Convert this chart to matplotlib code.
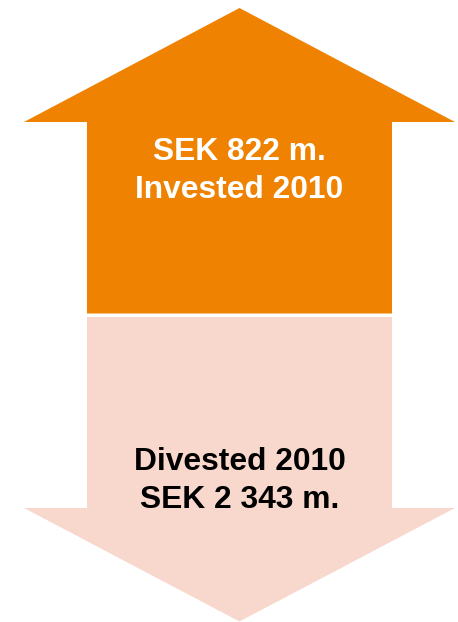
import matplotlib
matplotlib.use("Agg")
import matplotlib.pyplot as plt
from matplotlib.patches import Polygon

# Data
flows = ["Invested", "Divested"]
amounts_msek = [822, 2343]
year = 2010
labels_up = ["SEK 822 m.", "Invested 2010"]
labels_down = ["Divested 2010", "SEK 2 343 m."]

ORANGE = "#EF8200"
PINK = "#F8D8CC"

W, H = 458, 622
fig = plt.figure(figsize=(W / 100, H / 100), dpi=100)
ax = fig.add_axes([0, 0, 1, 1])
ax.set_xlim(0, W)
ax.set_ylim(H, 0)
ax.axis("off")

cx = 239.5
head_l, head_r = 24, 455
shaft_l, shaft_r = 87, 392

# Up arrow (invested)
up = [(cx, 8), (head_r, 122), (shaft_r, 122), (shaft_r, 313.5),
      (shaft_l, 313.5), (shaft_l, 122), (head_l, 122)]
ax.add_patch(Polygon(up, closed=True, facecolor=ORANGE, edgecolor="none"))

# Down arrow (divested)
down = [(shaft_l, 317), (shaft_r, 317), (shaft_r, 508), (head_r, 508),
        (cx, 621.5), (head_l, 508), (shaft_l, 508)]
ax.add_patch(Polygon(down, closed=True, facecolor=PINK, edgecolor="none"))

fs = 22.9
font = ["Liberation Sans", "DejaVu Sans"]
for txt, yb in zip(labels_up, [160.5, 198.5]):
    ax.text(cx, yb, txt, ha="center", va="baseline", color="white",
            fontsize=fs, fontweight="bold", family=font)
for txt, yb in zip(labels_down, [470, 508.5]):
    ax.text(cx, yb, txt, ha="center", va="baseline", color="black",
            fontsize=fs, fontweight="bold", family=font)

fig.savefig("out.png", dpi=100, facecolor="white")
